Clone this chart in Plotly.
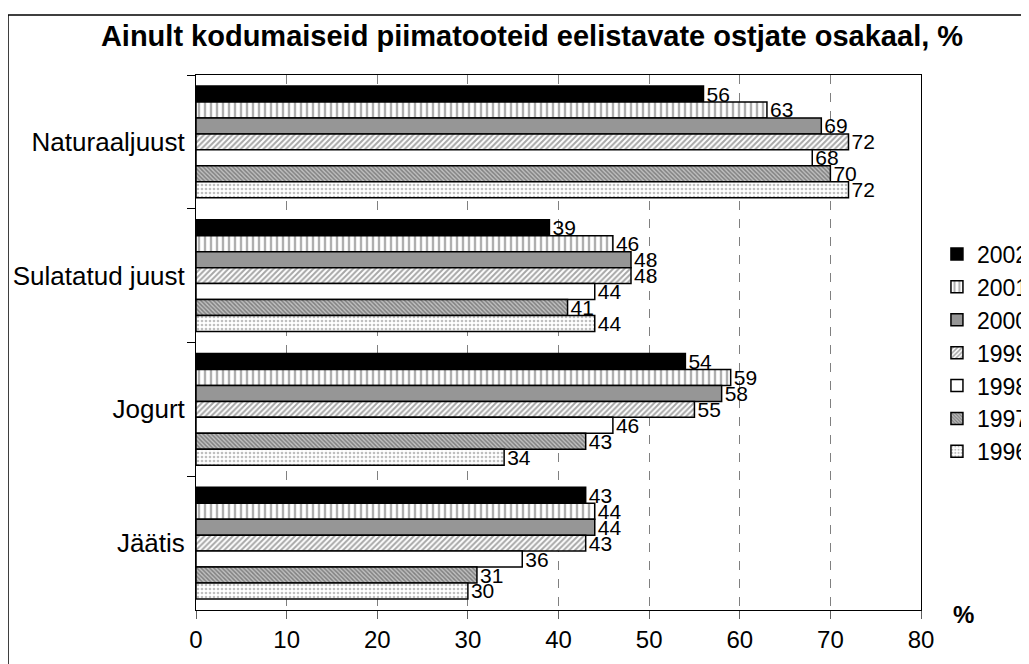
import plotly.graph_objects as go

categories = ["Naturaaljuust", "Sulatatud juust", "Jogurt", "Jäätis"]
years = ["2002", "2001", "2000", "1999", "1998", "1997", "1996"]
v2002 = [56, 39, 54, 43]
v2001 = [63, 46, 59, 44]
v2000 = [69, 48, 58, 44]
v1999 = [72, 48, 55, 43]
v1998 = [68, 44, 46, 36]
v1997 = [70, 41, 43, 31]
v1996 = [72, 44, 34, 30]
series = [v2002, v2001, v2000, v1999, v1998, v1997, v1996]

FONT = "Liberation Sans, Arial, sans-serif"

styles = [
    dict(color="black"),
    dict(color="white", pattern=dict(shape="|", fgcolor="#606060", bgcolor="white", size=6, solidity=0.4)),
    dict(color="#969696"),
    dict(color="white", pattern=dict(shape="/", fgcolor="#505050", bgcolor="white", size=4, solidity=0.5)),
    dict(color="white"),
    dict(color="white", pattern=dict(shape="\\", fgcolor="#404040", bgcolor="#c0c0c0", size=3, solidity=0.5)),
    dict(color="white", pattern=dict(shape=".", fgcolor="#808080", bgcolor="white", size=4, solidity=0.35)),
]

# figure is drawn 8px in from the page corner (body margin); figure coordinates below
W, H = 1021, 656
PL, PR, PT, PB = 188, 913, 67, 602
PW, PH = PR - PL, PB - PT

fig = go.Figure()
for name, vals, st in zip(years, series, styles):
    marker = dict(line=dict(color="black", width=1.5))
    marker.update(st)
    fig.add_trace(go.Bar(
        y=categories, x=vals, name=name, orientation="h",
        marker=marker,
        text=[str(v) for v in vals], textposition="outside",
        textfont=dict(family=FONT, size=21, color="black"),
        constraintext="none", cliponaxis=False,
        legendgroup=name,
    ))

fig.update_layout(
    width=W, height=H,
    paper_bgcolor="white", plot_bgcolor="white",
    barmode="group", bargap=0.165, bargroupgap=0,
    margin=dict(l=PL, r=W - PR, t=PT, b=H - PB, autoexpand=False),
    font=dict(family=FONT, size=24, color="black"),
    title=dict(text="<b>Ainult kodumaiseid piimatooteid eelistavate ostjate osakaal, %</b>",
               x=(524 - PL) / PW, xref="paper", xanchor="center",
               y=1 - 28 / H, yref="container", yanchor="middle",
               font=dict(family=FONT, size=29, color="black")),
    showlegend=True,
    legend=dict(x=1.022, xanchor="left", y=(PB - 345) / PH, yanchor="middle",
                font=dict(family=FONT, size=23), tracegroupgap=2,
                bgcolor="rgba(0,0,0,0)", traceorder="normal"),
    xaxis=dict(range=[0, 80], dtick=10, tick0=0,
               showline=True, linecolor="black", linewidth=1, mirror=True,
               ticks="outside", ticklen=8, tickcolor="#606060",
               showgrid=True, gridcolor="#808080", griddash="dash", gridwidth=1,
               zeroline=False, ticklabelstandoff=0,
               tickfont=dict(family=FONT, size=24)),
    yaxis=dict(autorange="reversed", showline=True, linecolor="black", linewidth=1, mirror=True,
               ticks="outside", ticklen=8, tickcolor="black", tickson="boundaries",
               showgrid=False, ticklabelstandoff=5,
               tickfont=dict(family=FONT, size=26)),
    shapes=[dict(type="rect", xref="paper", yref="paper",
                 x0=(0 - PL) / PW, x1=1.3, y0=-0.3, y1=(PB - 7) / PH,
                 line=dict(color="black", width=1.5), fillcolor="rgba(0,0,0,0)", layer="below")],
    annotations=[dict(text="<b>%</b>", xref="paper", yref="paper",
                      x=(955 - PL) / PW, y=(PB - 607) / PH,
                      xanchor="center", yanchor="middle", showarrow=False,
                      font=dict(family=FONT, size=24, color="black"))],
)

fig.write_html("out.html")
